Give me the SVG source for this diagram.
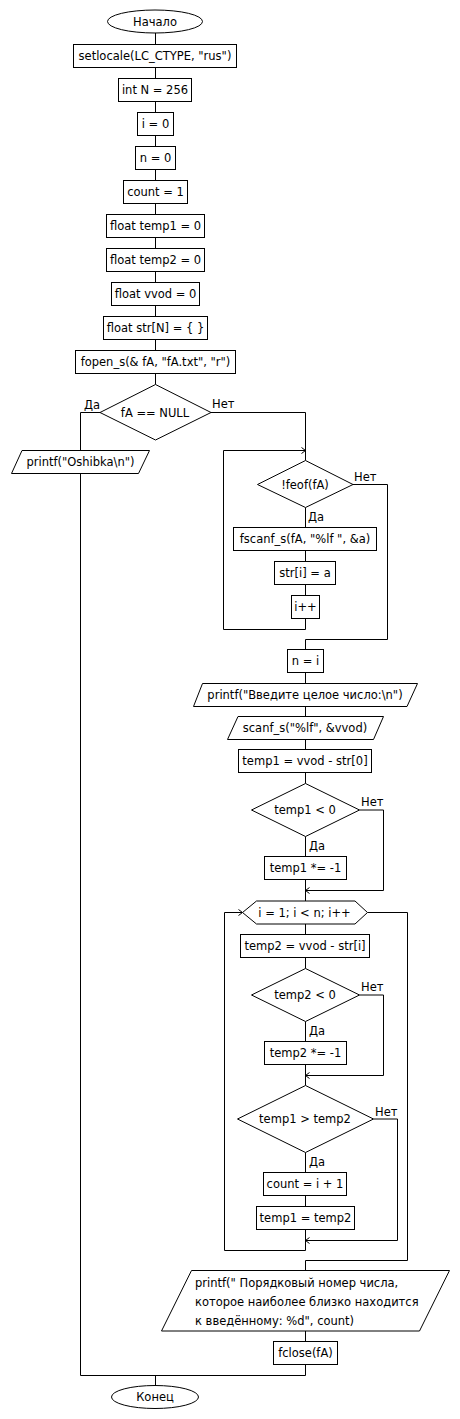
<svg xmlns="http://www.w3.org/2000/svg" width="460" height="1419" viewBox="0 0 460 1419">
<style>
.s{fill:#fff;stroke:#000;stroke-width:1}
.t{font-family:"DejaVu Sans",Verdana,sans-serif;font-size:11.5px;fill:#000;text-anchor:middle}
.l{font-family:"DejaVu Sans",Verdana,sans-serif;font-size:11.5px;fill:#000}
.c{fill:none;stroke:#000;stroke-width:1}
</style>
<defs>
<marker id="a" markerWidth="8" markerHeight="8" refX="6" refY="4" orient="auto" markerUnits="userSpaceOnUse">
<path d="M2,1 L6,4 L2,7" fill="none" stroke="#000" stroke-width="1"/>
</marker>
</defs>
<g id="connectors">
<path class="c" d="M155.5,33 V44.5 M155.5,67.5 V78.5 M155.5,101.5 V112.5 M155.5,135.5 V146.5 M155.5,169.5 V180.5 M155.5,203.5 V214.5 M155.5,237.5 V248.5 M155.5,271.5 V282.5 M155.5,305.5 V316.5 M155.5,339.5 V350.5 M155.5,373.5 V384.5"/>
<path class="c" d="M100,412.5 H80.5 V450.5"/>
<path class="c" d="M80.5,473.5 V1375.5 H305.5 M305.5,1364.5 V1375.5 M155.5,1375.5 V1385.5"/>
<path class="c" d="M211,412.5 H305.5 V460.5"/>
<path class="c" d="M305.5,618.5 V629.5 H223.5 V450.5 H305.5" marker-end="url(#a)"/>
<path class="c" d="M305.5,507.5 V527.5 M305.5,550.5 V561.5 M305.5,584.5 V595.5"/>
<path class="c" d="M353,484.5 H387.5 V639.5 H305.5 V649.5"/>
<path class="c" d="M305.5,672.5 V683.5 M305.5,706.5 V716.5 M305.5,739.5 V749.5 M305.5,772.5 V783.5 M305.5,836.5 V856.5 M305.5,879.5 V901"/>
<path class="c" d="M359.5,810 H383.5 V890.5 H305.5" marker-end="url(#a)"/>
<path class="c" d="M305.5,924 V934.5 M305.5,957.5 V968.5 M305.5,1021.5 V1041.5 M305.5,1064.5 V1085.5"/>
<path class="c" d="M359.5,995 H383.5 V1075.5 H305.5" marker-end="url(#a)"/>
<path class="c" d="M305.5,1152.5 V1172.5 M305.5,1195.5 V1206.5"/>
<path class="c" d="M305.5,1229.5 V1250.5 H224.5 V912.5 H242.5" marker-end="url(#a)"/>
<path class="c" d="M373.5,1119 H397.5 V1240.5 H305.5" marker-end="url(#a)"/>
<path class="c" d="M367.5,912.5 H407.5 V1260.5 H305.5 V1270.5"/>
<path class="c" d="M305.5,1331 V1341.5"/>
<text class="l" x="84" y="409">Да</text>
<text class="l" x="212" y="408">Нет</text>
<text class="l" x="354" y="481">Нет</text>
<text class="l" x="308" y="521">Да</text>
<text class="l" x="361" y="806">Нет</text>
<text class="l" x="309" y="850">Да</text>
<text class="l" x="361" y="991">Нет</text>
<text class="l" x="309" y="1035">Да</text>
<text class="l" x="375" y="1116">Нет</text>
<text class="l" x="309" y="1166">Да</text>
</g>
<g id="start"><ellipse class="s" cx="155" cy="21.5" rx="47.5" ry="11.5"/><text class="t" x="155" y="25.5">Начало</text></g>
<g id="setlocale"><rect class="s" x="73.5" y="44.5" width="163" height="23"/><text class="t" x="155" y="60">setlocale(LC_CTYPE, "rus")</text></g>
<g id="intN"><rect class="s" x="118.5" y="78.5" width="73" height="23"/><text class="t" x="155" y="94">int N = 256</text></g>
<g id="i0"><rect class="s" x="137.5" y="112.5" width="36" height="23"/><text class="t" x="155.5" y="128">i = 0</text></g>
<g id="n0"><rect class="s" x="135.5" y="146.5" width="40" height="23"/><text class="t" x="155.5" y="162">n = 0</text></g>
<g id="count1"><rect class="s" x="123.5" y="180.5" width="64" height="23"/><text class="t" x="155.5" y="196">count = 1</text></g>
<g id="temp1init"><rect class="s" x="106.5" y="214.5" width="98" height="23"/><text class="t" x="155.5" y="230">float temp1 = 0</text></g>
<g id="temp2init"><rect class="s" x="106.5" y="248.5" width="98" height="23"/><text class="t" x="155.5" y="264">float temp2 = 0</text></g>
<g id="vvodinit"><rect class="s" x="111.5" y="282.5" width="88" height="23"/><text class="t" x="155.5" y="298">float vvod = 0</text></g>
<g id="strinit"><rect class="s" x="103.5" y="316.5" width="104" height="23"/><text class="t" x="155.5" y="332">float str[N] = { }</text></g>
<g id="fopen"><rect class="s" x="75.5" y="350.5" width="160" height="23"/><text class="t" x="155.5" y="366">fopen_s(&amp; fA, "fA.txt", "r")</text></g>
<g id="fAnull"><path class="s" d="M155.5,384.5 L211,412.5 L155.5,440 L100,412.5 Z"/><text class="t" x="155" y="416.5">fA == NULL</text></g>
<g id="oshibka"><path class="s" d="M22,450.5 H149.5 L138.5,473.5 H11.5 Z"/><text class="t" x="80.5" y="466">printf("Oshibka\n")</text></g>
<g id="feof"><path class="s" d="M305.5,460.5 L353,484.5 L305.5,507.5 L257.5,484.5 Z"/><text class="t" x="305" y="488.5">!feof(fA)</text></g>
<g id="fscanf"><rect class="s" x="233.5" y="527.5" width="143" height="23"/><text class="t" x="305" y="543">fscanf_s(fA, "%lf ", &amp;a)</text></g>
<g id="stri"><rect class="s" x="274.5" y="561.5" width="61" height="23"/><text class="t" x="305" y="577">str[i] = a</text></g>
<g id="iinc"><rect class="s" x="291.5" y="595.5" width="28" height="23"/><text class="t" x="305.5" y="611">i++</text></g>
<g id="ni"><rect class="s" x="287.5" y="649.5" width="36" height="23"/><text class="t" x="305.5" y="665">n = i</text></g>
<g id="printfvvod"><path class="s" d="M202.5,683.5 H417.5 L407,706.5 H193.5 Z"/><text class="t" x="305" y="699">printf("Введите целое число:\n")</text></g>
<g id="scanf"><path class="s" d="M238,716.5 H383.5 L373.5,739.5 H227.5 Z"/><text class="t" x="305" y="732">scanf_s("%lf", &amp;vvod)</text></g>
<g id="temp1calc"><rect class="s" x="238.5" y="749.5" width="133" height="23"/><text class="t" x="305" y="765">temp1 = vvod - str[0]</text></g>
<g id="temp1neg"><path class="s" d="M305.5,783.5 L359.5,810 L305.5,836.5 L251.5,810 Z"/><text class="t" x="305" y="814">temp1 &lt; 0</text></g>
<g id="temp1mul"><rect class="s" x="264.5" y="856.5" width="82" height="23"/><text class="t" x="305.5" y="872">temp1 *= -1</text></g>
<g id="loop"><path class="s" d="M242.5,912.5 L256.5,901 H355 L367.5,912.5 L355,924 H256.5 Z"/><text class="t" x="304.5" y="916.5">i = 1; i &lt; n; i++</text></g>
<g id="temp2calc"><rect class="s" x="240.5" y="934.5" width="129" height="23"/><text class="t" x="305" y="950">temp2 = vvod - str[i]</text></g>
<g id="temp2neg"><path class="s" d="M305.5,968.5 L359.5,995 L305.5,1021.5 L251.5,995 Z"/><text class="t" x="305" y="999">temp2 &lt; 0</text></g>
<g id="temp2mul"><rect class="s" x="264.5" y="1041.5" width="82" height="23"/><text class="t" x="305.5" y="1057">temp2 *= -1</text></g>
<g id="cmp"><path class="s" d="M305.5,1085.5 L373.5,1119 L305.5,1152.5 L237.5,1119 Z"/><text class="t" x="305" y="1123">temp1 &gt; temp2</text></g>
<g id="countset"><rect class="s" x="263.5" y="1172.5" width="83" height="23"/><text class="t" x="305" y="1188">count = i + 1</text></g>
<g id="temp1set"><rect class="s" x="256.5" y="1206.5" width="98" height="23"/><text class="t" x="305.5" y="1222">temp1 = temp2</text></g>
<g id="printfres"><path class="s" d="M191.5,1270.5 H449.5 L419.5,1331 H161.5 Z"/>
<text class="l" x="195" y="1287">printf(" Порядковый номер числа,</text>
<text class="l" x="195" y="1306">которое наиболее близко находится</text>
<text class="l" x="195" y="1325">к введённому: %d", count)</text></g>
<g id="fclose"><rect class="s" x="273.5" y="1341.5" width="64" height="23"/><text class="t" x="305.5" y="1357">fclose(fA)</text></g>
<g id="end"><ellipse class="s" cx="155" cy="1397" rx="43.5" ry="11.5"/><text class="t" x="155" y="1401">Конец</text></g>
</svg>
